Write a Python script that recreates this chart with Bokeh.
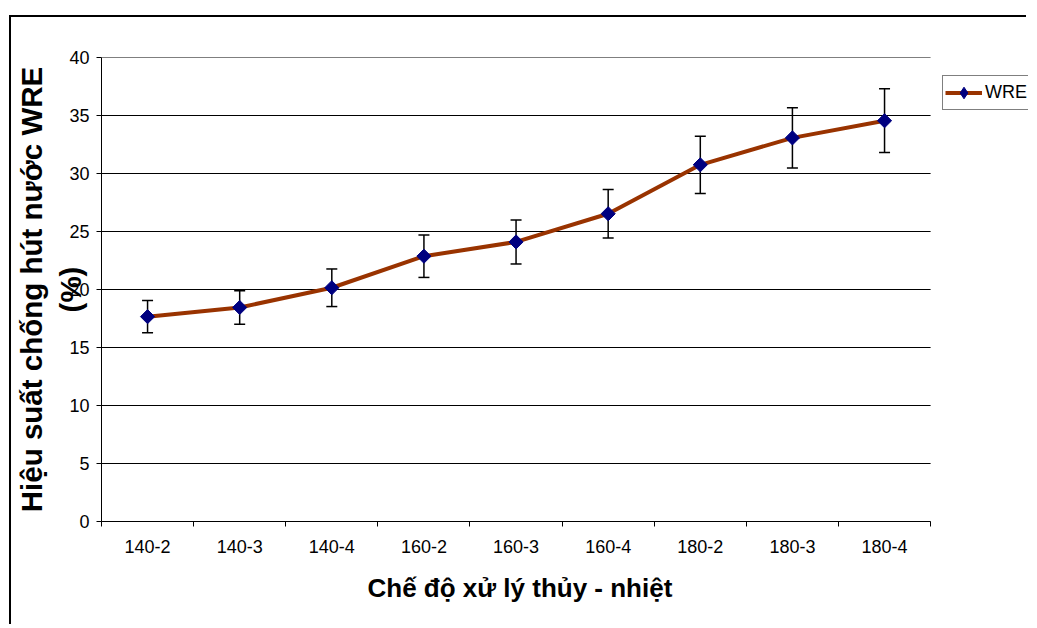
import math
from bokeh.plotting import figure
from bokeh.models import (Range1d, FixedTicker, Whisker, ColumnDataSource, Legend,
                          LegendItem, TeeHead, Title)
from bokeh.embed import file_html
from bokeh.resources import INLINE

categories = ["140-2", "140-3", "140-4", "160-2", "160-3", "160-4", "180-2", "180-3", "180-4"]
wre = [17.66, 18.45, 20.15, 22.87, 24.1, 26.53, 30.75, 33.07, 34.55]
wre_err = [1.39, 1.45, 1.62, 1.83, 1.9, 2.1, 2.47, 2.6, 2.75]
y_ticks = [0, 5, 10, 15, 20, 25, 30, 35, 40]
series_name = "WRE"
x_title = "Chế độ xử lý thủy - nhiệt"
y_title = "Hiệu suất chống hút nước WRE\n(%)"

FONT = "Liberation Sans"
LINE_COLOR = "#993300"
MARK_COLOR = "#000080"

W, H = 1017, 609
LEFT = 89
PLOT_PX = 830          # width of the category area in pixels
n = len(categories)
x_end = n * (W - LEFT) / PLOT_PX   # frame continues to the right edge, where the legend sits

xpos = [i + 0.5 for i in range(n)]
src = ColumnDataSource(dict(
    x=xpos, y=wre,
    upper=[v + e for v, e in zip(wre, wre_err)],
    lower=[v - e for v, e in zip(wre, wre_err)],
))

p = figure(width=W, height=H, title=None,
           x_range=Range1d(0, x_end), y_range=Range1d(y_ticks[0], y_ticks[-1]),
           output_backend="svg", toolbar_location=None,
           min_border_left=LEFT, min_border_right=0, min_border_top=40, min_border_bottom=105)
p.outline_line_color = None
p.background_fill_color = "white"
p.border_fill_color = "white"
# outer chart border: only its left and top edges fall inside the window
p.styles = {"margin-left": "11px", "margin-top": "17px",
            "box-shadow": "-2px -2px 0px 0px black"}

# horizontal grid lines limited to the category area
p.xgrid.visible = False
p.ygrid.visible = False
p.segment(x0=[0] * len(y_ticks), x1=[n] * len(y_ticks), y0=y_ticks, y1=y_ticks,
          line_color="black", line_width=1)

# x axis: labels at category centres, ticks at category boundaries
xa = p.xaxis[0]
xa.bounds = (0, n)
xa.ticker = FixedTicker(ticks=xpos, minor_ticks=list(range(n + 1)))
xa.major_label_overrides = {x: c for x, c in zip(xpos, categories)}
xa.major_tick_out = 0
xa.major_tick_in = 0
xa.minor_tick_out = 5
xa.minor_tick_in = 0
xa.minor_tick_line_color = "black"
xa.axis_line_color = "black"
xa.major_label_text_font = FONT
xa.major_label_text_font_size = "18px"
xa.major_label_text_color = "black"
xa.major_label_standoff = 13

# x title centred under the category area
p.add_layout(Title(text=x_title, align="left", offset=266, standoff=31,
                   text_font=FONT, text_font_size="26px", text_font_style="bold",
                   text_color="black"), "below")

ya = p.yaxis[0]
ya.ticker = FixedTicker(ticks=y_ticks)
ya.major_tick_out = 5
ya.major_tick_in = 0
ya.minor_tick_out = 0
ya.minor_tick_in = 0
ya.axis_line_color = "black"
ya.major_tick_line_color = "black"
ya.major_label_text_font = FONT
ya.major_label_text_font_size = "18px"
ya.major_label_text_color = "black"
ya.major_label_standoff = 7
ya.axis_label = y_title
ya.axis_label_text_font = FONT
ya.axis_label_text_font_size = "29.5px"
ya.axis_label_text_font_style = "bold"
ya.axis_label_text_color = "black"
ya.axis_label_standoff = -21

# error bars
wh = Whisker(source=src, base="x", upper="upper", lower="lower",
             line_color="black", line_width=1.5,
             upper_head=TeeHead(size=11, line_color="black", line_width=1.5),
             lower_head=TeeHead(size=11, line_color="black", line_width=1.5))
p.add_layout(wh)

ln = p.line("x", "y", source=src, line_color=LINE_COLOR, line_width=4)
mk = p.scatter("x", "y", source=src, marker="square", angle=math.pi / 4, size=10,
               fill_color=MARK_COLOR, line_color=MARK_COLOR)
# legend swatch marker (legend glyphs are never rotated, so use a diamond there)
leg_mk = p.scatter(x=[float("nan")], y=[float("nan")], marker="diamond",
                   fill_color=MARK_COLOR, line_color=MARK_COLOR)

legend = Legend(items=[LegendItem(label=series_name, renderers=[ln, leg_mk])],
                location=(PLOT_PX + 11, 411), margin=0, padding=2,
                glyph_width=37, glyph_height=29, label_height=29, label_standoff=3,
                border_line_color="black", border_line_width=1,
                label_text_font=FONT, label_text_font_size="18px", label_text_color="black",
                background_fill_color="white", background_fill_alpha=1)
p.add_layout(legend, "center")

open("out.html", "w").write(file_html(p, INLINE))
